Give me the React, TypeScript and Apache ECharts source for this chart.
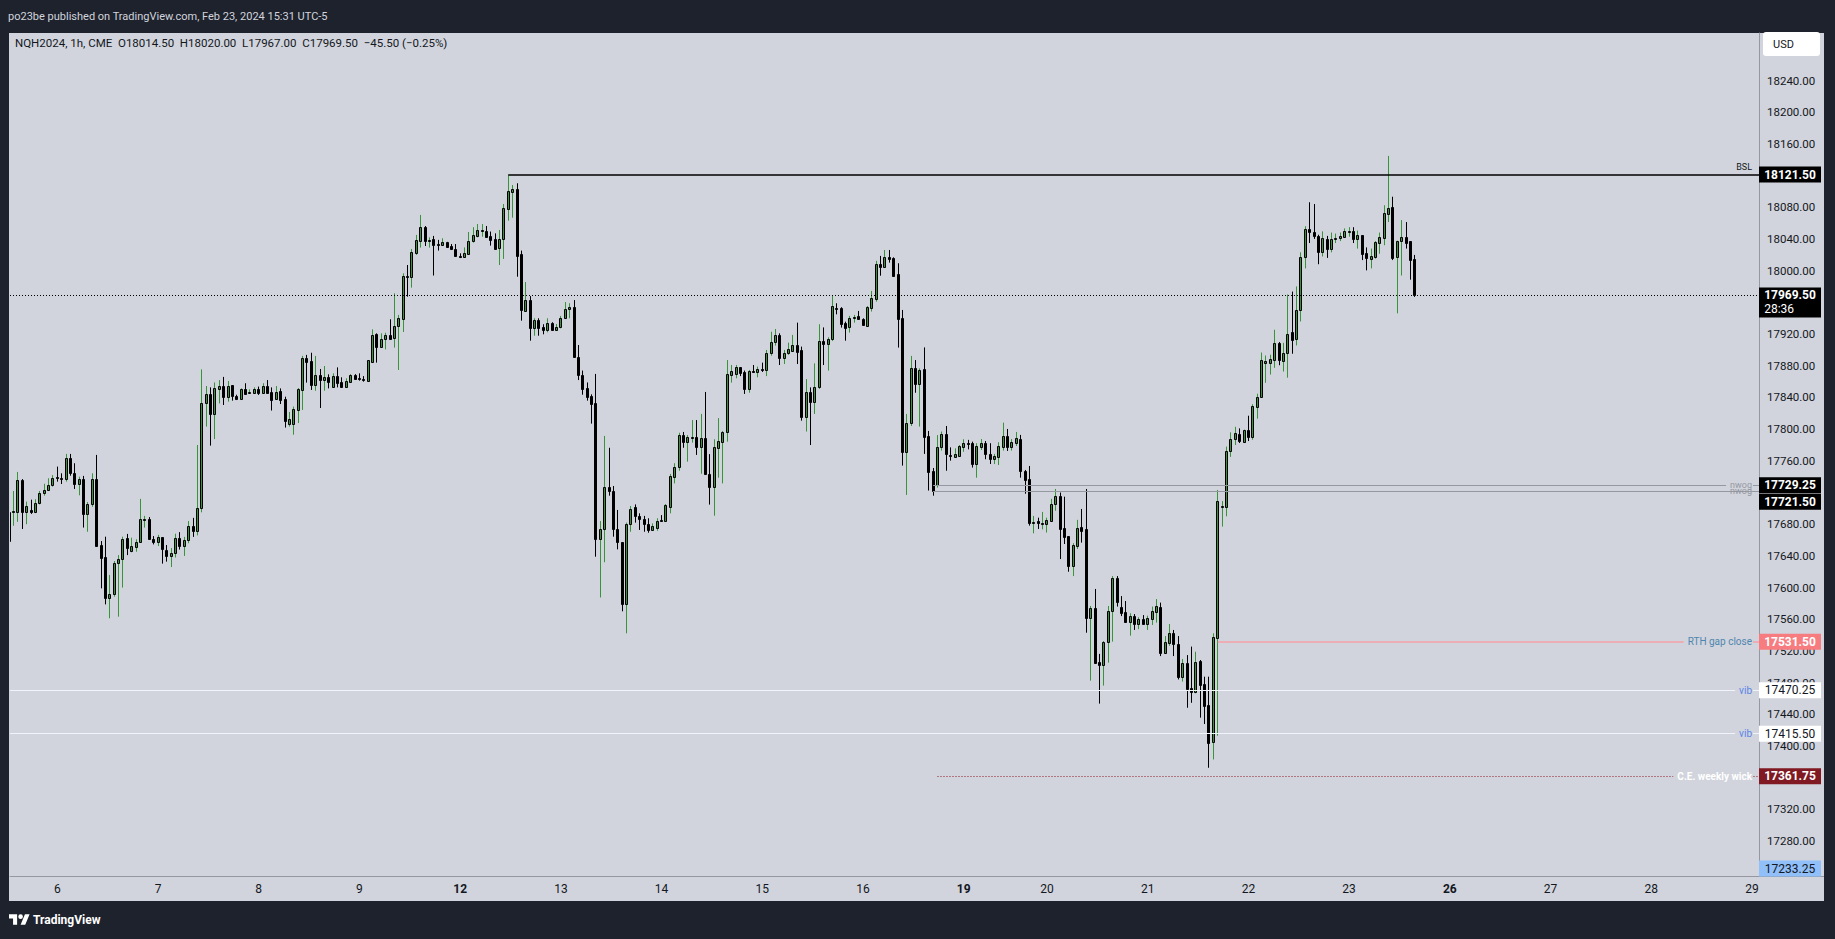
import React, { useEffect, useRef } from "react";
import * as echarts from "echarts";

// ---------- DATA (hourly candles, [open, high, low, close]) ----------
const feb05 = [
  [17659, 17719, 17654, 17696], [17695, 17722, 17678, 17697], [17696, 17746, 17683, 17736],
  [17736, 17737, 17674, 17696], [17696, 17708.5, 17680, 17703], [17698, 17711, 17693, 17696],
  [17696, 17711.5, 17694, 17707], [17706.5, 17722, 17705, 17720], [17719, 17731, 17716, 17723],
  [17723, 17738, 17722, 17729.5], [17729, 17742, 17727.5, 17738],
];
const feb06 = [
  [17739.5, 17752.75, 17733.75, 17738.75], [17738.5, 17744.25, 17730.75, 17737.5], [17736.75, 17768.75, 17733.75, 17763.25],
  [17763, 17768.75, 17741.25, 17744.25], [17744.25, 17757, 17724.5, 17730.5], [17730.5, 17740, 17716.5, 17736.75],
  [17736.75, 17741, 17675.75, 17692.5], [17692.5, 17708, 17670.5, 17705], [17705, 17744.25, 17702, 17736.75],
  [17736.75, 17767.5, 17651.75, 17653], [17653.75, 17658.75, 17599, 17637], [17638.5, 17664.25, 17578.75, 17586.5],
  [17586.5, 17616, 17561.25, 17592], [17592, 17633.5, 17588.5, 17630.5], [17630.5, 17641, 17563.25, 17636],
  [17636, 17664.25, 17600, 17661.25], [17662.25, 17667.75, 17641, 17649.5], [17646.25, 17663, 17644.5, 17652.5],
  [17651.75, 17661, 17645.25, 17657.5], [17658, 17712, 17658, 17686.5], [17686.25, 17690.5, 17675.75, 17686.5],
  [17686.5, 17689, 17661, 17661], [17661.25, 17665, 17654.5, 17657.5],
];
const feb07 = [
  [17657.5, 17666.5, 17652.5, 17663.5], [17663.5, 17663.5, 17630.25, 17648.25], [17647.5, 17653.75, 17632.75, 17640],
  [17640, 17650, 17626, 17644], [17644, 17668, 17638, 17662], [17662, 17670, 17648, 17652],
  [17652, 17664, 17640, 17660], [17660, 17684, 17656, 17678], [17678, 17688, 17664, 17672],
  [17672, 17780, 17666, 17700], [17700, 17875.5, 17695, 17832.5], [17832.5, 17854.5, 17803.25, 17844],
  [17844, 17852.75, 17779.25, 17818.75], [17818.75, 17859, 17787.5, 17851.5], [17851.25, 17862, 17832.5, 17854.5],
  [17854.5, 17866, 17830.5, 17841], [17841, 17860.75, 17834.75, 17855], [17855.25, 17855.5, 17836, 17842.25],
  [17842, 17843.5, 17836.75, 17838], [17838.5, 17851.5, 17836.75, 17850.25], [17850.25, 17858, 17843.25, 17844.5],
  [17846, 17850.25, 17844.5, 17847], [17846, 17852.75, 17845.25, 17850.75],
];
const feb08 = [
  [17850.75, 17853.75, 17843.25, 17846], [17846, 17858, 17844.5, 17854.5], [17854.5, 17862, 17845.25, 17846],
  [17846.5, 17852.75, 17823.5, 17837.25], [17838.5, 17854.5, 17836.75, 17847], [17848.25, 17851.5, 17831.75, 17836.75],
  [17838, 17841, 17802, 17810.75], [17807, 17821.75, 17803.25, 17812.5], [17807, 17828.5, 17793, 17825],
  [17824.5, 17852, 17807.75, 17850.25], [17850, 17892.5, 17824.25, 17890], [17890, 17893.75, 17858.75, 17885.25],
  [17886, 17896.5, 17849.5, 17855.75], [17856.25, 17892.5, 17848.5, 17868], [17868, 17876, 17826.75, 17862.5],
  [17862.5, 17879.75, 17848.5, 17866], [17865.5, 17869.25, 17851.5, 17859.5], [17853.75, 17870.5, 17852.75, 17866.75],
  [17866.75, 17878, 17852.75, 17858.25], [17859, 17865.5, 17852, 17853.75], [17853.75, 17864.25, 17852.75, 17860.75],
  [17860, 17869.5, 17859, 17868], [17868, 17869.5, 17863, 17863.75],
];
const feb09 = [
  [17864.25, 17870.5, 17861.25, 17863.75], [17863.75, 17867, 17860, 17862], [17861.25, 17887, 17861.25, 17887],
  [17885.25, 17926, 17884.75, 17918.5], [17919.75, 17921, 17884, 17904.25], [17904.25, 17921, 17903, 17913.5],
  [17914.25, 17921.75, 17900.75, 17918.5], [17918.5, 17938.75, 17914.25, 17914.25], [17915.5, 17971.5, 17903, 17929.75],
  [17930.75, 17944.25, 17874.75, 17940], [17939.5, 17996.75, 17922.75, 17993.5], [17993, 18007.25, 17967.25, 17992.5],
  [17992.5, 18027.5, 17978.75, 18023.75], [18023, 18045.25, 18020, 18039], [18038, 18070.5, 18029.25, 18055],
  [18055, 18056.5, 18031.25, 18038], [18038, 18042.25, 18029.25, 18039], [18039.75, 18044, 17994, 18033],
  [18034.25, 18039, 18025.5, 18033.75], [18033, 18041, 18032.5, 18036], [18036, 18036.5, 18030, 18030.5],
  [18031.25, 18033.75, 18026.25, 18027], [18027.5, 18033.75, 18017.75, 18019],
];
const feb12 = [
  [18019, 18022, 18016, 18018.25], [18017.75, 18029.5, 18017.75, 18022], [18021.5, 18049, 18020, 18037.5],
  [18038, 18055, 18035.5, 18044.75], [18044.25, 18059, 18042.25, 18051], [18051, 18059, 18043, 18051.25],
  [18050.25, 18056.5, 18043, 18043], [18044, 18049.5, 18031.75, 18039], [18040, 18047.25, 18026.25, 18027.5],
  [18029.25, 18051.5, 18007.25, 18040], [18039.75, 18084.25, 18015, 18078.75], [18078.5, 18121.5, 18063.25, 18100.75],
  [18100, 18108.25, 18067, 18103.25], [18103.25, 18110.5, 17992.5, 18019], [18021.25, 18025.5, 17937, 17951],
  [17949.5, 17985.75, 17948.5, 17962.75], [17962.75, 17968, 17911.75, 17928.25], [17928.25, 17940, 17918, 17937.75],
  [17937.75, 17940, 17918, 17928.25], [17929, 17932.5, 17919.75, 17925.5], [17925.5, 17940, 17922.25, 17933.5],
  [17933.5, 17935, 17924, 17925.5], [17925.5, 17932.75, 17924, 17929],
];
const feb13 = [
  [17928.5, 17943, 17927.25, 17940], [17940, 17960.5, 17939, 17951.25], [17951.25, 17959, 17940, 17954.25],
  [17954.25, 17963, 17890.75, 17890.75], [17890.75, 17906.25, 17862, 17868.5], [17868.5, 17874, 17843.5, 17851],
  [17852, 17859, 17836, 17841], [17842, 17844, 17807, 17832.25], [17832.5, 17869.75, 17639, 17661],
  [17661, 17684, 17587.5, 17673.5], [17673.5, 17791.5, 17632, 17726.5], [17726.5, 17776.5, 17716, 17721.5],
  [17721.5, 17728.25, 17664.25, 17673.5], [17673.5, 17698, 17648.25, 17657], [17657, 17657, 17570, 17578.75],
  [17578.75, 17682, 17542.25, 17680.25], [17680.25, 17703, 17670.5, 17699.25], [17702, 17705, 17682, 17690.5],
  [17690.5, 17693.75, 17672.75, 17686], [17686, 17690.5, 17670.5, 17679.75], [17679.75, 17687.5, 17669.25, 17672.75],
  [17672.75, 17681, 17671.75, 17677.75], [17675.5, 17687.5, 17671.75, 17684],
];
const feb14 = [
  [17685.25, 17691.5, 17683.25, 17684], [17684.5, 17705.5, 17684.5, 17704.25], [17702.25, 17743.5, 17693.75, 17741],
  [17740, 17757, 17731.5, 17751.75], [17751.75, 17795.5, 17747.5, 17792.5], [17792.5, 17796.5, 17776.5, 17784.25],
  [17784.25, 17792.5, 17759, 17789.75], [17789.25, 17811.5, 17783, 17789.75], [17789.75, 17811.5, 17767.5, 17778],
  [17778, 17819.25, 17743.75, 17788.5], [17788.5, 17847, 17743.75, 17743.75], [17743.75, 17768.5, 17704.75, 17727.5],
  [17727.5, 17787.25, 17690.75, 17777.5], [17776.5, 17814, 17738.75, 17785], [17784.25, 17797.75, 17731.5, 17796.5],
  [17796, 17887.25, 17784.25, 17869.75], [17868.75, 17881, 17858.75, 17873.5], [17869.75, 17881, 17864.25, 17878],
  [17878, 17878, 17867, 17871.25], [17872.5, 17874, 17844.5, 17850.75], [17850.75, 17874.75, 17846, 17873.5],
  [17873.5, 17881, 17872.25, 17873], [17872.25, 17879, 17865.5, 17876],
];
const feb15 = [
  [17876, 17884, 17872.25, 17875], [17875, 17900, 17867, 17895.75], [17895.75, 17923, 17892.75, 17909.5],
  [17909.5, 17926.5, 17905.5, 17919], [17919, 17921, 17881, 17890.25], [17890.25, 17900, 17882.25, 17895.75],
  [17896.5, 17909.25, 17893.75, 17900.75], [17899, 17919, 17898, 17906.25], [17906.25, 17934.5, 17882.25, 17898],
  [17900, 17904.25, 17810.75, 17815.75], [17815.75, 17863.25, 17797, 17846.5], [17846.5, 17852.75, 17780, 17834.75],
  [17834.75, 17883, 17819.25, 17852.75], [17852.75, 17932.5, 17850.75, 17911.25], [17911.25, 17928.5, 17881, 17907],
  [17907, 17916, 17874, 17913.75], [17913.5, 17968.5, 17911.25, 17955.5], [17953, 17959, 17945, 17952.25],
  [17953, 17954, 17928.25, 17932.75], [17934.5, 17935.75, 17911.75, 17928.25], [17929.5, 17943, 17922, 17940.5],
  [17940.5, 17944.25, 17934.5, 17941.25], [17943, 17949.25, 17938, 17938.75],
];
const feb16 = [
  [17939, 17940, 17931.5, 17931.5], [17930.75, 17955.5, 17930.25, 17954], [17953.5, 17974.5, 17948.5, 17965.25],
  [17964.5, 18012.5, 17961, 18008], [18008.5, 18018.75, 17993.75, 18005.25], [18005.25, 18026.25, 18005.25, 18017],
  [18017.5, 18026.25, 18010.25, 18015], [18015.75, 18017, 17993.75, 17993.75], [17996, 18009.5, 17903, 17939.5],
  [17940.5, 17950.5, 17754, 17771.5], [17771.5, 17819.25, 17717, 17807.5], [17807.5, 17892.5, 17804, 17876.75],
  [17876.75, 17887.25, 17846, 17856.5], [17856.5, 17876.75, 17803.25, 17874.75], [17875.5, 17903.25, 17768.75, 17790.5],
  [17791.5, 17797.75, 17722.5, 17746.5], [17747.25, 17751, 17716, 17721.5], [17729.25, 17792.5, 17726.25, 17777],
  [17777, 17797, 17773, 17793.5], [17793.5, 17804, 17747.5, 17768.25], [17767.5, 17777, 17760.25, 17766.5],
  [17765.25, 17775.75, 17764.5, 17768.75], [17766.5, 17780, 17765.25, 17778.5],
];
const feb19 = [
  [17778, 17787.25, 17771.5, 17782], [17782.25, 17786.5, 17774.5, 17781.75], [17782.25, 17784.25, 17751.5, 17756.5],
  [17756.5, 17782.25, 17738.75, 17778.75], [17778, 17787.5, 17773.75, 17782.25], [17782.25, 17785, 17762, 17768.25],
  [17768.25, 17782.25, 17756, 17762.5], [17762.75, 17768.75, 17756, 17766.25], [17765.25, 17783.5, 17754.75, 17778.75],
  [17778, 17808.25, 17773, 17791.5], [17791.5, 17800.25, 17772.5, 17778], [17778, 17787.5, 17773, 17783.5],
  [17783, 17796.5, 17778.75, 17788.5], [17787.5, 17792.75, 17738.75, 17747.75], [17747.25, 17748.5, 17718.5, 17736],
  [17736.75, 17753.5, 17678.25, 17682], [17682.5, 17690.5, 17668.5, 17682.75], [17683.75, 17688.25, 17674, 17681.25],
  [17681.25, 17695.5, 17673.5, 17681.5],
];
const feb20 = [
  [17680.25, 17688.25, 17669.5, 17685.5], [17683.75, 17712, 17683.75, 17705.5], [17705, 17724.5, 17697, 17715.75],
  [17715.75, 17720, 17636, 17674], [17674.75, 17714.75, 17655, 17664.25], [17665, 17665, 17620, 17627.25],
  [17627.25, 17656, 17614.5, 17653.5], [17653, 17685.5, 17648.75, 17674.75], [17676, 17699.25, 17656.75, 17672],
  [17674, 17724.5, 17543, 17562], [17562, 17576.75, 17482.5, 17573.75], [17573.75, 17598.25, 17505.25, 17505.25],
  [17506, 17516.25, 17453.5, 17502.75], [17502.75, 17532.5, 17476.25, 17531], [17531, 17576.75, 17505.25, 17570],
  [17570, 17614.5, 17531.75, 17611.75], [17611.75, 17614.5, 17576, 17582.25], [17575, 17589.25, 17564, 17567.5],
  [17568.75, 17583, 17557, 17557], [17557, 17567.5, 17539.25, 17564], [17564, 17566.5, 17546.5, 17553.5],
  [17553.5, 17562.5, 17547.5, 17560], [17560, 17565.25, 17554, 17554],
];
const feb21 = [
  [17554, 17564.5, 17546.5, 17561], [17560.75, 17576, 17552.75, 17570.5], [17569.5, 17585.5, 17555.75, 17576.75],
  [17575.5, 17581, 17513.5, 17517.75], [17517.75, 17538.75, 17517, 17531.25], [17530.5, 17554, 17526.5, 17542.5],
  [17542.5, 17546.5, 17513.5, 17528.25], [17528.75, 17538.75, 17484, 17487.5], [17487.5, 17509.75, 17481.25, 17504.75],
  [17504.75, 17514.75, 17448.25, 17472], [17472.75, 17525.5, 17454.5, 17468], [17468, 17519, 17466.5, 17506],
  [17507.25, 17508.5, 17435.75, 17477], [17478.25, 17487.5, 17427.75, 17451], [17451.75, 17487.5, 17372.5, 17404],
  [17405.5, 17542.25, 17383, 17537], [17535.75, 17723.25, 17413, 17709.75], [17702.5, 17709.25, 17677, 17703],
  [17702, 17778, 17690, 17772], [17772, 17796, 17765, 17788], [17788, 17803, 17780, 17795],
  [17794.25, 17801, 17782.5, 17785], [17784, 17799.5, 17782.5, 17798.5],
];
const feb22 = [
  [17798.5, 17817, 17785, 17790.5], [17790.5, 17831.5, 17786.75, 17828.75], [17827.5, 17844.75, 17813.25, 17841],
  [17840, 17896.75, 17840, 17887.25], [17883.5, 17893, 17858.5, 17886], [17883.5, 17894, 17869, 17888.75],
  [17887.75, 17925.5, 17877.5, 17908.5], [17908.5, 17910, 17880.75, 17887.75], [17886, 17909, 17872.75, 17896.75],
  [17896.75, 17970, 17865, 17920.75], [17922.25, 17973.75, 17895.25, 17912.75], [17914.25, 17980.25, 17905.75, 17951],
  [17951, 18023.25, 17936, 18018], [18018, 18056.25, 18003, 18052.5], [18052.5, 18086.5, 18035, 18049.25],
  [18049.25, 18084.25, 18040.25, 18044], [18044.5, 18045.5, 18008.25, 18023.25], [18023.25, 18049.75, 18018, 18041.25],
  [18040.25, 18044, 18016.25, 18027], [18027, 18048.25, 18023.25, 18040.25], [18040.25, 18047, 18035, 18040.75],
  [18040.75, 18048.25, 18037.5, 18044], [18043, 18053.5, 18041.75, 18049.75],
];
const feb23 = [
  [18049.25, 18055, 18043, 18049.75], [18050.25, 18055, 18035, 18040.25], [18040.25, 18050.75, 18028, 18045.5],
  [18045, 18045, 18013.5, 18021.5], [18022.75, 18029.5, 18000.5, 18016.25], [18015.25, 18028, 18003, 18018.5],
  [18017.5, 18037.5, 18015.25, 18036.5], [18035.5, 18048.25, 18021.5, 18043], [18041.75, 18082.75, 18032.25, 18073.25],
  [18072, 18145, 18061.5, 18079], [18080, 18093.5, 18013.5, 18016.25], [18018, 18038, 17946.25, 18037.5],
  [18037.5, 18064, 17994, 18043], [18043, 18061.5, 18028, 18035], [18037.5, 18037.5, 17988.75, 18013.5],
  [18014.5, 18020, 17967, 17969.5],
];
const sessions = [feb05, feb06, feb07, feb08, feb09, feb12, feb13, feb14, feb15, feb16, feb19, feb20, feb21, feb22, feb23];

// x-axis: bar index of each day's 00:00 bar, and its label
const dayTicks = [11, 34, 57, 80, 103, 126, 149, 172, 195, 218, 237, 260, 283, 306, 329, 352, 375, 398];
const dayLabels = ["6", "7", "8", "9", "12", "13", "14", "15", "16", "19", "20", "21", "22", "23", "26", "27", "28", "29"];
const boldDays = ["12", "19", "26"];

// y-axis tick labels (the ones not hidden behind price boxes)
const priceTicks = [
  17280, 17320, 17400, 17440, 17480, 17520, 17560, 17600, 17640, 17680, 17760,
  17800, 17840, 17880, 17920, 18000, 18040, 18080, 18160, 18200, 18240,
];

// drawn levels
const levelBSL = 18121.5;
const lastPrice = 17969.5;
const nwogHigh = 17729.25;
const nwogLow = 17721.5;
const rthGapClose = 17531.5;
const vibHigh = 17470.25;
const vibLow = 17415.5;
const ceWeeklyWick = 17361.75;
const lowerMark = 17233.25;
const bslStartBar = 114;
const nwogStartBar = 211;
const ceStartBar = 212;
const rthStartBar = 276;
const countdown = "28:36";

const headerText = "po23be published on TradingView.com, Feb 23, 2024 15:31 UTC-5";
const titleText = "NQH2024, 1h, CME  O18014.50  H18020.00  L17967.00  C17969.50  \u221245.50 (\u22120.25%)";

// ---------- STYLE ----------
const GREEN = "#379437";
const PANEL = "#d1d4dc";
const DARK = "#1e222d";
const TEXT = "#131722";
const AXIS = "#9598a1";
const FONT = "Roboto, 'Noto Sans', sans-serif";
const X_MIN = 0.2;
const X_MAX = 399.6;
const Y_MIN = 17235.2;
const Y_MAX = 18300.2;

const LOGO_D = "M14 22H7V11H0V4h14v18zM28 22h-8l7.5-18h8L28 22zM20 4a4 4 0 1 1 0 8a4 4 0 1 1 0-8z";
echarts.graphic.registerShape("tvlogo", echarts.graphic.extendPath(LOGO_D, {}));

const candleData = sessions.flat().map((r, i) => [i, r[0], r[1], r[2], r[3]]);

const renderCandle = (_params: any, api: any) => {
  const i = api.value(0);
  const o = api.value(1), h = api.value(2), l = api.value(3), c = api.value(4);
  const pH = api.coord([i, h]);
  const pL = api.coord([i, l]);
  const pO = api.coord([i, o]);
  const pC = api.coord([i, c]);
  const up = c >= o;
  const x = Math.floor(pH[0]) + 0.5;
  const yt = Math.round(Math.min(pO[1], pC[1])) + 0.5;
  let yb = Math.round(Math.max(pO[1], pC[1])) + 0.5;
  if (yb - yt < 1) yb = yt + 1;
  return {
    type: "group",
    children: [
      { type: "line", shape: { x1: x, y1: pH[1], x2: x, y2: pL[1] }, style: { stroke: up ? GREEN : "#000", lineWidth: 1 } },
      { type: "rect", shape: { x: x - 1, y: yt, width: 2, height: yb - yt }, style: { fill: up ? GREEN : "#000", stroke: "#000", lineWidth: 1 } },
    ],
  };
};

const insideLabel = (text: string, color: string, fontSize: number, bold = false, bg = true) => ({
  show: true,
  position: "insideEnd",
  formatter: text,
  color,
  fontSize,
  fontWeight: bold ? "bold" : "normal",
  fontFamily: FONT,
  distance: [6, 0],
  backgroundColor: bg ? PANEL : "transparent",
  padding: [0, 1, 0, 4],
});

const hLine = (x0: number, y: number, lineStyle: any, label?: any) => [
  { coord: [x0, y], lineStyle, label: label || { show: false } },
  { coord: [X_MAX, y] },
];

const markLines = [
  hLine(X_MIN, lastPrice, { color: "#000", width: 1, type: [1, 2] }),
  hLine(bslStartBar, levelBSL, { color: "#000", width: 1.5, type: "solid" }, {
    show: true, position: "insideEndTop", formatter: "BSL", color: TEXT, fontSize: 9, fontFamily: FONT, distance: [7, 3],
  }),
  hLine(nwogStartBar, nwogHigh, { color: AXIS, width: 1, type: "solid" }, insideLabel("nwog", AXIS, 9)),
  hLine(nwogStartBar, nwogLow, { color: AXIS, width: 1, type: "solid" }, insideLabel("nwog", AXIS, 9, false, false)),
  hLine(rthStartBar, rthGapClose, { color: "#f4a2a7", width: 1.5, type: "solid" }, insideLabel("RTH gap close", "#4f86b0", 10)),
  hLine(X_MIN, vibHigh, { color: "#f0f3fa", width: 1, type: "solid" }, insideLabel("vib", "#5b84e8", 10)),
  hLine(X_MIN, vibLow, { color: "#f0f3fa", width: 1, type: "solid" }, insideLabel("vib", "#5b84e8", 10)),
  hLine(ceStartBar, ceWeeklyWick, { color: "#8e1b25", width: 1, type: [1, 2] }, insideLabel("C.E. weekly wick", "#ffffff", 10, true)),
];

const box = (price: number, bg: string, fg: string, bold: boolean, dy = 0) => ({
  coord: [X_MAX, Math.max(price, Y_MIN)],
  symbol: "rect",
  symbolSize: [62, 16],
  symbolOffset: [31, dy],
  itemStyle: { color: bg },
  label: {
    show: true,
    position: "inside",
    formatter: price.toFixed(2),
    color: fg,
    fontSize: 12,
    fontWeight: bold ? "bold" : "normal",
    fontFamily: FONT,
  },
});

const markPoints = [
  box(levelBSL, "#000000", "#ffffff", true),
  {
    coord: [X_MAX, lastPrice],
    symbol: "rect",
    symbolSize: [62, 30],
    symbolOffset: [31, 7.5],
    itemStyle: { color: "#000000" },
    label: {
      show: true,
      position: "inside",
      formatter: `{a|${lastPrice.toFixed(2)}}\n{b|${countdown}}`,
      rich: {
        a: { color: "#fff", fontSize: 12, fontWeight: "bold", fontFamily: FONT, lineHeight: 14, align: "left" },
        b: { color: "#fff", fontSize: 12, fontFamily: FONT, lineHeight: 14, align: "left" },
      },
    },
  },
  box(nwogHigh, "#000000", "#ffffff", true),
  box(nwogLow, "#000000", "#ffffff", true, 10.5),
  box(rthGapClose, "#f77c80", "#ffffff", true),
  box(vibHigh, "#ffffff", TEXT, false),
  box(vibLow, "#ffffff", TEXT, false),
  box(ceWeeklyWick, "#801922", "#ffffff", true),
  box(lowerMark, "#90bff9", TEXT, false, -8),
];

const option: any = {
  animation: false,
  backgroundColor: DARK,
  textStyle: { fontFamily: FONT },
  grid: { left: 10, right: 76, top: 33, bottom: 62.5, containLabel: false, outerBoundsMode: "none" },
  xAxis: {
    type: "value",
    min: X_MIN,
    max: X_MAX,
    axisLine: { show: true, onZero: false, lineStyle: { color: AXIS, width: 1 } },
    axisTick: { show: false },
    splitLine: { show: false },
    axisLabel: {
      customValues: dayTicks,
      margin: 6,
      color: TEXT,
      fontSize: 12,
      fontFamily: FONT,
      formatter: (v: number) => {
        const t = dayLabels[dayTicks.indexOf(v)] ?? "";
        return boldDays.includes(t) ? `{b|${t}}` : t;
      },
      rich: { b: { fontWeight: "bold", fontSize: 12, color: TEXT, fontFamily: FONT } },
    },
  },
  yAxis: {
    type: "value",
    position: "right",
    min: Y_MIN,
    max: Y_MAX,
    axisLine: { show: true, onZero: false, lineStyle: { color: AXIS, width: 1 } },
    axisTick: { show: false },
    splitLine: { show: false },
    axisLabel: {
      customValues: priceTicks,
      margin: 8,
      color: TEXT,
      fontSize: 11.5,
      fontFamily: FONT,
      formatter: (v: number) => v.toFixed(2),
    },
  },
  series: [
    {
      type: "custom",
      name: "NQH2024",
      renderItem: renderCandle,
      data: candleData,
      encode: { x: 0, y: [1, 2, 3, 4] },
      clip: true,
      z: 3,
    },
    {
      type: "line",
      name: "levels",
      data: [],
      clip: false,
      silent: true,
      symbol: "none",
      z: 4,
      markLine: { symbol: ["none", "none"], silent: true, animation: false, data: markLines },
      markPoint: { silent: true, animation: false, data: markPoints },
    },
  ],
  graphic: [
    { type: "rect", z: -10, silent: true, shape: { x: 9, y: 33, width: 1815, height: 868 }, style: { fill: PANEL } },
    { type: "line", z: 1, silent: true, shape: { x1: 1759, y1: 876.5, x2: 1824, y2: 876.5 }, style: { stroke: AXIS, lineWidth: 1 } },
    {
      type: "text", z: 10, silent: true, x: 8, y: 16,
      style: { text: headerText, fill: "#d1d4dc", font: `11px ${FONT}`, verticalAlign: "middle" },
    },
    {
      type: "text", z: 10, silent: true, x: 15, y: 43,
      style: { text: titleText, fill: TEXT, font: `11.5px ${FONT}`, verticalAlign: "middle" },
    },
    { type: "rect", z: 100, silent: true, shape: { x: 1763, y: 32, width: 57, height: 24, r: 3 }, style: { fill: "#ffffff" } },
    {
      type: "text", z: 101, silent: true, x: 1773, y: 44,
      style: { text: "USD", fill: TEXT, font: `11px ${FONT}`, verticalAlign: "middle" },
    },
    { type: "tvlogo", z: 10, silent: true, x: 9, y: 912, scaleX: 0.58, scaleY: 0.58, style: { fill: "#ffffff" } },
    {
      type: "text", z: 10, silent: true, x: 33, y: 920,
      style: { text: "TradingView", fill: "#ffffff", font: `bold 12px ${FONT}`, verticalAlign: "middle" },
    },
  ],
};

export default function App() {
  const ref = useRef<HTMLDivElement>(null);
  useEffect(() => {
    const chart = echarts.init(ref.current!, null, { renderer: "svg" });
    chart.setOption(option);
    return () => chart.dispose();
  }, []);
  return <div ref={ref} style={{ position: "fixed", left: 0, top: 0, width: 1835, height: 939 }} />;
}
